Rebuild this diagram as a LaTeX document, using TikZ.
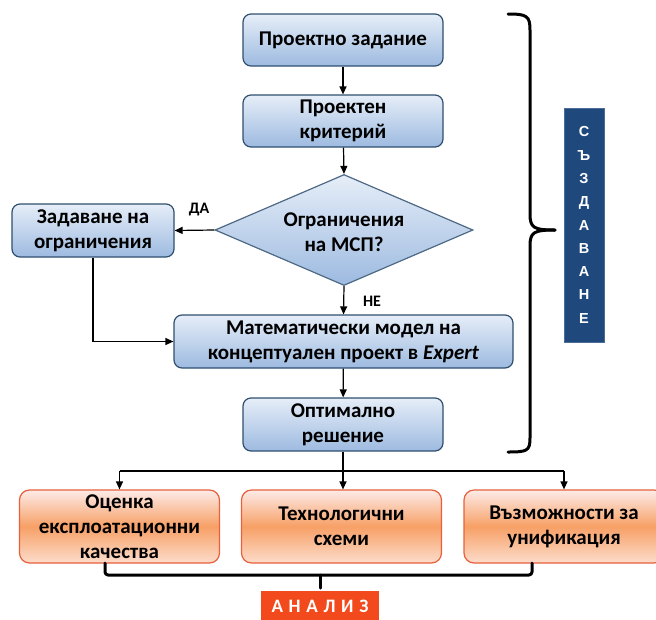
\documentclass[tikz,border=0pt]{standalone}
\usepackage{fontspec}
\setmainfont{Carlito}
\newfontfamily\vertfont{Liberation Sans}
\newfontfamily\spacedfont[LetterSpace=30]{Carlito}
\usetikzlibrary{shapes.geometric,arrows.meta}
\definecolor{bluetop}{HTML}{E6EEF8}
\definecolor{bluebot}{HTML}{9DBAE0}
\definecolor{blueline}{HTML}{2F4F6F}
\definecolor{ortop}{HTML}{FDEBE8}
\definecolor{ormid}{HTML}{F7A066}
\definecolor{orbot}{HTML}{FCDCCB}
\definecolor{orline}{HTML}{E8603C}
\definecolor{navy}{HTML}{1F497D}
\definecolor{redor}{HTML}{F24A1C}
\tikzset{
  bluebox/.style={draw=blueline, line width=1.2pt, rounded corners=8pt,
    top color=bluetop, bottom color=bluebot, align=center,
    font=\fontsize{21}{25}\selectfont\bfseries, inner sep=0pt},
  diabox/.style={draw=blueline!85, line width=1.2pt, diamond,
    top color=bluetop, bottom color=bluebot, inner sep=0pt},
  txt/.style={align=center, font=\fontsize{21}{25}\selectfont\bfseries, inner sep=0pt},
  orbox/.style={draw=orline, line width=1.2pt, rounded corners=10pt,
    top color=ortop, bottom color=orbot, middle color=ormid, align=center,
    font=\fontsize{21}{25}\selectfont\bfseries, inner sep=0pt,
    minimum width=200pt, minimum height=73pt},
  arr/.style={line width=1.2pt, -{Triangle[width=7pt,length=8pt]}},
  ln/.style={line width=1.2pt},
  thick3/.style={line width=3pt, line cap=round, line join=round},
  lbl/.style={font=\fontsize{16}{18}\selectfont\bfseries, inner sep=0pt}
}
\begin{document}
\begin{tikzpicture}[x=1pt,y=-1pt]
\useasboundingbox (0,0) rectangle (656,619);
% blue chain
\node[bluebox, minimum width=200pt, minimum height=52pt] (b1) at (343,40) {Проектно задание};
\node[bluebox, minimum width=200pt, minimum height=52pt] (b2) at (343,121) {Проектен\\критерий};
\node[diabox, minimum width=258pt, minimum height=111pt] (d) at (344,230) {};
\node[txt] (dt) at (344,232) {Ограничения\\на МСП?};
\node[bluebox, minimum width=162pt, minimum height=53pt] (zb) at (93,230.5) {Задаване на\\ограничения};
\node[bluebox, minimum width=339pt, minimum height=53pt] (mm) at (343.5,341.5) {Математически модел на\\концептуален проект в \textit{Expert}};
\node[bluebox, minimum width=200pt, minimum height=53pt] (op) at (343,424.5) {Оптимално\\решение};
% labels
\node[lbl] (da) at (199,210) {ДА};
\node[lbl] (ne) at (372,301) {НЕ};
% connectors
\draw[arr] (b1) -- (b2);
\draw[arr] (b2) -- (d.north);
\draw[arr] (d.west) -- (zb.east);
\draw[arr] (d.south) -- (mm.north);
\draw[arr] (zb.south) |- (mm.west);
\draw[arr] (mm) -- (op);
% orange boxes
\node[orbox] (oa) at (119.5,526.5) {Оценка\\експлоатационни\\качества};
\node[orbox] (ob) at (341.5,526.5) {Технологични\\схеми};
\node[orbox] (oc) at (564,526.5) {Възможности за\\унификация};
\coordinate (bus) at (343,471);
\draw[ln] (op.south) -- (bus);
\draw[ln] (bus -| oa.north) -- (bus -| oc.north);
\draw[arr] (bus -| oa.north) -- (oa.north);
\draw[arr] (bus) -- (ob.north -| bus);
\draw[arr] (bus -| oc.north) -- (oc.north);
% bottom bracket
\node[fill=redor, minimum width=118pt, minimum height=30pt, inner sep=0pt,
  text=white, font=\spacedfont\fontsize{19}{20}\selectfont\bfseries] (an) at (320,606) {АНАЛИЗ};
\coordinate (bl) at (105,563);
\coordinate (br) at (532,563);
\coordinate (bm) at (320,575);
\draw[thick3, rounded corners=3pt] (bl) -- (105,575) -- (532,575) -- (br);
\draw[thick3] (bm) -- (320,588);
% right brace
\draw[thick3] (508,14) .. controls (527,14) and (530,16) .. (530,30)
  -- (530,214) .. controls (530,228) and (534,230) .. (555,230);
\draw[thick3] (555,230) .. controls (534,230) and (530,232) .. (530,246)
  -- (530,438) .. controls (530,451) and (527,452) .. (508,452);
% creation box
\node[fill=navy, draw=navy!80, minimum width=40pt, minimum height=234pt, inner sep=0pt,
  text=white, align=center, font=\vertfont\fontsize{14.5}{23.3}\selectfont\bfseries] (cr) at (584,225)
  {С\\Ъ\\З\\Д\\А\\В\\А\\Н\\Е};
\end{tikzpicture}
\end{document}
